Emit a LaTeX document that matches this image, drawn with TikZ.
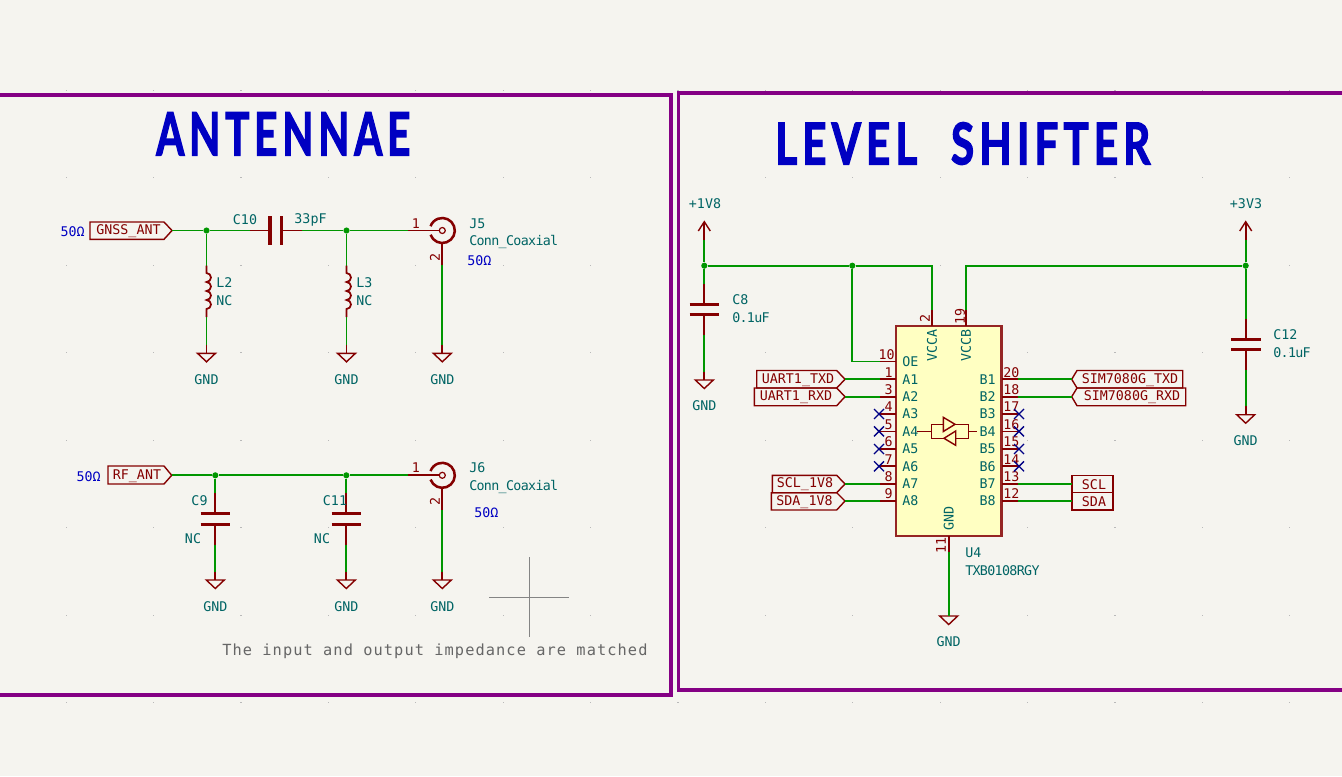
\documentclass[tikz,border=0pt]{standalone}
\usepackage{fontspec}
\setmainfont{DejaVu Sans Mono}
\newfontfamily\headf{Lato}[BoldFont={Lato Bold},BoldFeatures={FakeBold=2.5},LetterSpace=12,WordSpace=2.2]
\newfontfamily\notef{DejaVu Sans Mono}[LetterSpace=7]
\newfontfamily\narrowf{DejaVu Sans Mono}[LetterSpace=-5]
\definecolor{bgc}{HTML}{F5F4EF}
\definecolor{wirec}{HTML}{009600}
\definecolor{redc}{HTML}{840000}
\definecolor{tealc}{HTML}{006464}
\definecolor{bluec}{HTML}{0000C2}
\definecolor{ncc}{HTML}{000084}
\definecolor{purc}{HTML}{840084}
\definecolor{bodyc}{HTML}{FFFFC2}
\definecolor{grayc}{HTML}{848484}
\newcommand\kf{\fontsize{10pt}{11pt}\selectfont}
\newcommand\kfn{\narrowf\fontsize{10pt}{11pt}\selectfont}
\tikzset{
 wire/.style={draw=wirec,line width=1.3pt},
 pinl/.style={draw=redc,line width=1.3pt},
 plate/.style={draw=redc,line width=2.7pt},
 sym/.style={draw=redc,line width=1.05pt,line join=miter},
 frm/.style={draw=purc,line width=2.3pt},
 jun/.style={circle,fill=wirec,inner sep=0pt,minimum size=4.6pt},
 tl/.style={text=tealc,font=\kf,inner sep=0pt},
 tn/.style={text=tealc,font=\kfn,inner sep=0pt},
 rd/.style={text=redc,font=\kf,inner sep=0pt},
 bl/.style={text=bluec,font=\kf,inner sep=0pt},
 xmark/.style={draw=ncc,line width=1pt},
}
\newcommand\gndsym[4]{%
 \coordinate (#1) at (#2,#3);
 \draw[sym] (#2-9,#3) -- (#2+9,#3) -- (#2,#3+8.5) -- cycle;
 \node[tl] (#1t) at (#2,#4) {GND};
}
\newcommand\pwr[2]{%
 \coordinate (#1) at (#2,240);
 \draw[pinl] (#1) -- (#2,221.7);
 \draw[sym] (#2-6,231) -- (#2,221.7) -- (#2+6,231);
}
\newcommand\coil[2]{%
 \draw[pinl] (#1,#2) -- (#1,#2+7.5)
  arc (-90:90:4.5) arc (-90:90:4.5) arc (-90:90:4.5) arc (-90:90:4.5) -- (#1,#2+51.5);
}
\newcommand\coax[3]{%
 \coordinate (#1) at (#2,#3);
 \draw[redc,line width=1.9pt] (#2,#3) ++(160:12.5) arc (160:-160:12.5);
 \draw[redc,line width=0.9pt] (#2,#3) circle (3);
 \draw[pinl] (#2,#3+12.5) -- (#2,#3+34.5);
}
\begin{document}
\begin{tikzpicture}[x=0.75pt,y=-0.75pt]
\useasboundingbox (0,0) rectangle (1342,776);
\clip (0,0) rectangle (1342,776);
\fill[bgc] (0,0) rectangle (1342,776);
\foreach \i in {0,...,14} \foreach \j in {-2,...,5}
  \fill[gray!55] (66+87.4*\i-0.5,265+87.5*\j-0.5) rectangle ++(1.2,1.2);
\coordinate (fa) at (-6,95); \coordinate (fb) at (671,95); \coordinate (fc) at (671,695); \coordinate (fd) at (-6,695);
\draw[frm] (fa) -- (fb) -- (fc) -- (fd);
\coordinate (ga) at (1350,93); \coordinate (gb) at (678.5,93); \coordinate (gc) at (678.5,690); \coordinate (gd) at (1350,690);
\draw[frm] (ga) -- (gb) -- (gc) -- (gd);
\node[inner sep=0pt,anchor=north west,text=bluec] (h1) at (156,112) {\resizebox{190.5pt}{32.3pt}{\headf\bfseries ANTENNAE}};
\node[inner sep=0pt,anchor=north west,text=bluec] (h2) at (775,122) {\resizebox{281.2pt}{31.5pt}{\headf\bfseries LEVEL SHIFTER}};
% GNSS
\coordinate (gnsstip) at (172,230.5);
\draw[sym] (90,222) -- (164,222) -- (gnsstip) -- (164,239.3) -- (90,239.3) -- cycle;
\node[rd] (gnsst) at (128.5,231) {GNSS\_ANT};
\node[bl,anchor=east] (z1) at (85,232) {50Ω};
\node[jun] (j1) at (206.5,230.5) {};
\node[jun] (j2) at (346.5,230.5) {};
\coordinate (c10a) at (250,230.5); \coordinate (c10b) at (302,230.5);
\draw[wire] (gnsstip) -- (j1) -- (c10a);
\draw[pinl] (c10a) -- (270,230.5); \draw[pinl] (281.3,230.5) -- (c10b);
\draw[plate] (270,216) -- (270,245); \draw[plate] (281.3,216) -- (281.3,245);
\node[tl] (c10t) at (245,220) {C10};
\node[tl] (c10v) at (310.5,220) {33pF};
\coordinate (p1a) at (408,230.5);
\draw[wire] (c10b) -- (j2) -- (p1a);
\draw[pinl] (p1a) -- (439,230.5);
\coax{j5}{442.3}{230.5}
\node[rd] (n1a) at (416,224) {1};
\node[rd,rotate=90] (n2a) at (435,257) {2};
\node[tl,anchor=west] (j5t) at (469,224) {J5};
\node[tn,anchor=west] (j5v) at (469,242) {Conn\_Coaxial};
\node[bl,anchor=west] (z2) at (467,261) {50Ω};
\coordinate (j5b) at (442.3,265);
\gndsym{g3}{442.3}{353.3}{379.5}
\draw[wire] (j5b) -- (442.3,345); \draw[pinl] (442.3,345) -- (g3);
\coordinate (l2a) at (206.5,265.5); \coordinate (l2b) at (206.5,317);
\draw[wire] (j1) -- (l2a);
\coil{206.5}{265.5}
\gndsym{g1}{206.5}{353.3}{379.5}
\draw[wire] (l2b) -- (206.5,345); \draw[pinl] (206.5,345) -- (g1);
\node[tl,anchor=west] (l2t) at (216,283) {L2};
\node[tl,anchor=west] (l2v) at (216,300.5) {NC};
\coordinate (l3a) at (346.5,265.5); \coordinate (l3b) at (346.5,317);
\draw[wire] (j2) -- (l3a);
\coil{346.5}{265.5}
\gndsym{g2}{346.5}{353.3}{379.5}
\draw[wire] (l3b) -- (346.5,345); \draw[pinl] (346.5,345) -- (g2);
\node[tl,anchor=west] (l3t) at (356,283) {L3};
\node[tl,anchor=west] (l3v) at (356,300.5) {NC};
% RF
\coordinate (rftip) at (171.7,475.3);
\draw[sym] (108,466) -- (164,466) -- (rftip) -- (164,484) -- (108,484) -- cycle;
\node[rd] (rft) at (137,476) {RF\_ANT};
\node[bl,anchor=east] (z3) at (101,476.5) {50Ω};
\node[jun] (j3) at (215.3,475.3) {};
\node[jun] (j4) at (346.3,475.3) {};
\coordinate (p2a) at (408,475.3);
\draw[wire] (rftip) -- (j3) -- (j4) -- (p2a);
\draw[pinl] (p2a) -- (439,475.3);
\coax{j6}{442.3}{475.3}
\node[rd] (n1b) at (416,468) {1};
\node[rd,rotate=90] (n2b) at (435,501) {2};
\node[tl,anchor=west] (j6t) at (469,468) {J6};
\node[tn,anchor=west] (j6v) at (469,486.5) {Conn\_Coaxial};
\node[bl,anchor=west] (z4) at (474,512.5) {50Ω};
\coordinate (j6b) at (442.3,510);
\gndsym{g6}{442.3}{580}{606.5}
\draw[wire] (j6b) -- (442.3,572); \draw[pinl] (442.3,572) -- (g6);
\coordinate (c9a) at (215.3,493); \coordinate (c9b) at (215.3,545);
\draw[wire] (j3) -- (c9a);
\draw[pinl] (c9a) -- (215.3,513.3); \draw[pinl] (215.3,524.3) -- (c9b);
\draw[plate] (200.5,513.3) -- (230,513.3); \draw[plate] (200.5,524.3) -- (230,524.3);
\gndsym{g4}{215.3}{580}{606.5}
\draw[wire] (c9b) -- (215.3,572); \draw[pinl] (215.3,572) -- (g4);
\node[tl] (c9t) at (199.5,501) {C9};
\node[tl] (c9v) at (193,538.5) {NC};
\coordinate (c11a) at (346.3,493); \coordinate (c11b) at (346.3,545);
\draw[wire] (j4) -- (c11a);
\draw[pinl] (c11a) -- (346.3,513.3); \draw[pinl] (346.3,524.3) -- (c11b);
\draw[plate] (331.5,513.3) -- (361,513.3); \draw[plate] (331.5,524.3) -- (361,524.3);
\gndsym{g5}{346.3}{580}{606.5}
\draw[wire] (c11b) -- (346.3,572); \draw[pinl] (346.3,572) -- (g5);
\node[tl] (c11t) at (335,501) {C11};
\node[tl] (c11v) at (322,538.5) {NC};
\draw[grayc,line width=0.9pt] (529.3,557) -- (529.3,636.7);
\draw[grayc,line width=0.9pt] (489,597.3) -- (569,597.3);
\node[inner sep=0pt,text=black!60,anchor=west] (note) at (222,651.5) {\notef\fontsize{11.5pt}{12pt}\selectfont The input and output impedance are matched};
% IC
\draw[draw=redc!85!bgc,fill=bodyc,line width=2.2pt] (896,326) rectangle (1001.7,536);
\pwr{pa}{704.3}
\node[tl] (pat) at (705,204) {+1V8};
\node[jun] (j6a) at (704.3,265.7) {};
\node[jun] (j7) at (852.3,265.7) {};
\coordinate (c8a) at (704.3,284.3); \coordinate (c8b) at (704.3,335);
\coordinate (vcca) at (931.7,310); \coordinate (vcca2) at (931.7,265.7);
\coordinate (oe) at (880,361.5); \coordinate (oe2) at (852.3,361.5);
\draw[wire] (pa) -- (j6a) -- (c8a);
\draw[wire] (j6a) -- (j7) -- (vcca2) -- (vcca);
\draw[wire] (j7) -- (oe2) -- (oe);
\draw[pinl] (oe) -- (896,361.5);
\draw[pinl] (vcca) -- (931.7,326);
\draw[pinl] (c8a) -- (704.3,304.3); \draw[pinl] (704.3,314.3) -- (c8b);
\draw[plate] (689.5,304.3) -- (719,304.3); \draw[plate] (689.5,314.3) -- (719,314.3);
\gndsym{g7}{704.3}{380}{405.5}
\draw[wire] (c8b) -- (704.3,372); \draw[pinl] (704.3,372) -- (g7);
\node[tl,anchor=west] (c8t) at (732,300) {C8};
\node[tn,anchor=west] (c8v) at (732,318) {0.1uF};
\pwr{pb}{1245.7}
\node[tl] (pbt) at (1246,204) {+3V3};
\node[jun] (j8) at (1245.7,265.7) {};
\coordinate (c12a) at (1245.7,319); \coordinate (c12b) at (1245.7,370);
\coordinate (vccb) at (966,310); \coordinate (vccb2) at (966,265.7);
\draw[wire] (pb) -- (j8) -- (c12a);
\draw[wire] (j8) -- (vccb2) -- (vccb);
\draw[pinl] (vccb) -- (966,326);
\draw[pinl] (c12a) -- (1245.7,339.3); \draw[pinl] (1245.7,349.3) -- (c12b);
\draw[plate] (1231,339.3) -- (1260.5,339.3); \draw[plate] (1231,349.3) -- (1260.5,349.3);
\gndsym{g8}{1245.7}{414.7}{440.5}
\draw[wire] (c12b) -- (1245.7,406); \draw[pinl] (1245.7,406) -- (g8);
\node[tl,anchor=west] (c12t) at (1273,335) {C12};
\node[tn,anchor=west] (c12v) at (1273,353) {0.1uF};
\node[rd,rotate=90] (n2) at (925,318) {2};
\node[rd,rotate=90] (n19) at (960,316) {19};
\node[tl,rotate=90] (vat) at (932,345.5) {VCCA};
\node[tl,rotate=90] (vbt) at (966,345.5) {VCCB};
\node[tl,rotate=90] (gict) at (948.7,518) {GND};
\coordinate (gp) at (948.7,552);
\draw[pinl] (948.7,536) -- (gp);
\gndsym{g9}{948.7}{616}{641.5}
\draw[wire] (gp) -- (948.7,616);
\node[rd,rotate=90] (n11) at (941,545) {11};
\node[tl,anchor=west] (u4t) at (965,553) {U4};
\node[tn,anchor=west] (u4v) at (965,571) {TXB0108RGY};
\node[tl,anchor=west] (oet) at (902,362) {OE};
\node[rd,anchor=east] (n10) at (895,355) {10};
\foreach \nm/\lab/\num/\yy in {a1/A1/1/379.3,a2/A2/3/396.7,a3/A3/4/414,a4/A4/5/431.4,a5/A5/6/449,a6/A6/7/466.3,a7/A7/8/484,a8/A8/9/501}{
  \node[tl,anchor=west] (\nm t) at (902,\yy) {\lab};
  \node[rd,anchor=east] (\nm n) at (893,\yy-7) {\num};
  \coordinate (\nm p) at (880,\yy);
  \draw[pinl] (\nm p) -- (896,\yy);
}
\foreach \nm/\lab/\num/\yy in {b1/B1/20/379.3,b2/B2/18/396.7,b3/B3/17/414,b4/B4/16/431.4,b5/B5/15/449,b6/B6/14/466.3,b7/B7/13/484,b8/B8/12/501}{
  \node[tl,anchor=east] (\nm t) at (996,\yy) {\lab};
  \node[rd,anchor=west] (\nm n) at (1003,\yy-7) {\num};
  \coordinate (\nm p) at (1018,\yy);
  \draw[pinl] (1001.7,\yy) -- (\nm p);
}
\foreach \yy in {414,431.4,449,466.3}{
  \draw[xmark] (874,\yy-5) -- (884,\yy+5) (874,\yy+5) -- (884,\yy-5);
  \draw[xmark] (1014,\yy-5) -- (1024,\yy+5) (1014,\yy+5) -- (1024,\yy-5);
}
\coordinate (ua) at (845,379.3); \coordinate (ub) at (845,396.7);
\coordinate (uc) at (845,484); \coordinate (ud) at (845,501);
\draw[sym] (756.7,370.5) -- (836.7,370.5) -- (ua) -- (836.7,388) -- (756.7,388) -- cycle;
\draw[sym] (754.3,388) -- (836.7,388) -- (ub) -- (836.7,405.7) -- (754.3,405.7) -- cycle;
\draw[sym] (772.3,475.3) -- (836.7,475.3) -- (uc) -- (836.7,492.7) -- (772.3,492.7) -- cycle;
\draw[sym] (771.3,492.7) -- (836.7,492.7) -- (ud) -- (836.7,510) -- (771.3,510) -- cycle;
\node[rd] (ut) at (798,380) {UART1\_TXD};
\node[rd] (ur) at (796,397.5) {UART1\_RXD};
\node[rd] (sc) at (805,484.5) {SCL\_1V8};
\node[rd] (sd) at (804.5,502) {SDA\_1V8};
\draw[wire] (ua) -- (a1p); \draw[wire] (ub) -- (a2p);
\draw[wire] (uc) -- (a7p); \draw[wire] (ud) -- (a8p);
\coordinate (sa) at (1071.7,379.3); \coordinate (sb) at (1071.7,396.7);
\coordinate (se) at (1071.7,484); \coordinate (sf) at (1071.7,501);
\draw[sym] (sa) -- (1077,370.5) -- (1182.7,370.5) -- (1182.7,388) -- (1077,388) -- cycle;
\draw[sym] (sb) -- (1077,388) -- (1185.7,388) -- (1185.7,405.7) -- (1077,405.7) -- cycle;
\draw[sym] (1072,475.3) -- (1113,475.3) -- (1113,492.7) -- (1072,492.7) -- cycle;
\draw[sym] (1072,492.7) -- (1113,492.7) -- (1113,510) -- (1072,510) -- cycle;
\node[rd] (st) at (1130,380) {SIM7080G\_TXD};
\node[rd] (sr) at (1132,397.5) {SIM7080G\_RXD};
\node[rd] (sclt) at (1094,484.5) {SCL};
\node[rd] (sdat) at (1094,502) {SDA};
\draw[wire] (b1p) -- (sa); \draw[wire] (b2p) -- (sb);
\draw[wire] (b7p) -- (se); \draw[wire] (b8p) -- (sf);
\draw[sym] (916.7,431.3) -- (931.7,431.3);
\draw[sym] (943.3,424.3) -- (931.7,424.3) -- (931.7,438.3) -- (944,438.3);
\draw[sym] (955,424.3) -- (968.3,424.3) -- (968.3,438.3) -- (955.7,438.3);
\draw[sym] (968.3,431.3) -- (976.7,431.3);
\draw[sym] (943.3,417.3) -- (955,424.3) -- (943.3,431.5) -- cycle;
\draw[sym] (955.7,431) -- (944,438.3) -- (955.7,445.3) -- cycle;
\end{tikzpicture}
\end{document}
